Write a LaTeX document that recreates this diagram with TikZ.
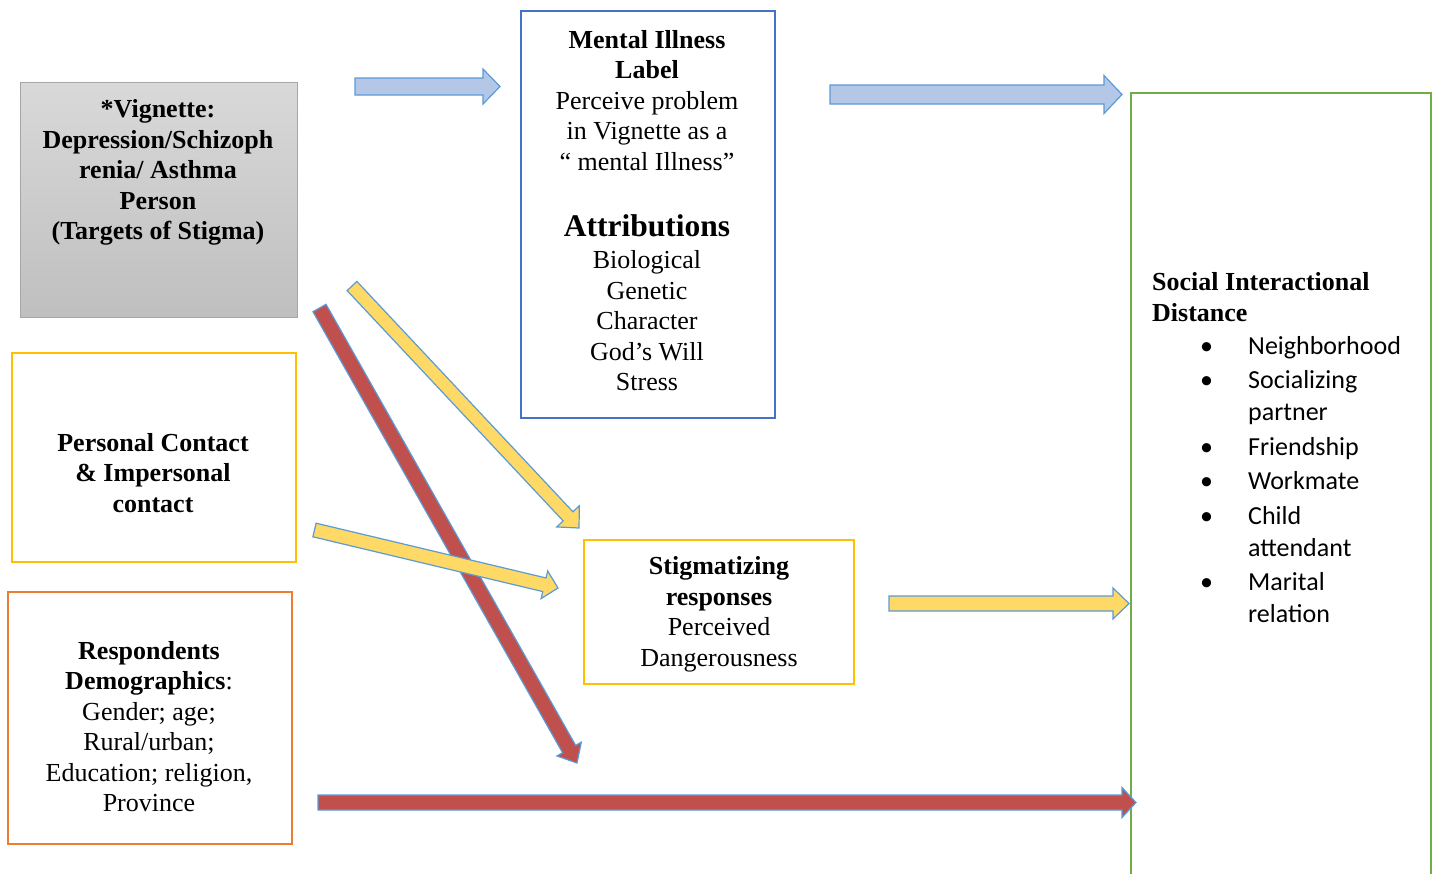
\documentclass[tikz,border=0pt]{standalone}
\usepackage{fontspec}
\setmainfont{Liberation Serif}
\newfontfamily\calibri{Carlito}
\usetikzlibrary{calc}

\definecolor{boxblue}{HTML}{4472C4}
\definecolor{boxgold}{HTML}{FFC000}
\definecolor{boxorange}{HTML}{ED7D31}
\definecolor{boxgreen}{HTML}{70AD47}
\definecolor{boxgray}{HTML}{A6A6A6}
\definecolor{arrowblue}{HTML}{B4C7E7}
\definecolor{arrowyellow}{HTML}{FFD966}
\definecolor{arrowred}{HTML}{C0504D}
\definecolor{rimblue}{HTML}{5B9BD5}

\tikzset{
  box/.style={draw, line width=2.8pt, inner sep=0pt},
  txt/.style={align=center, inner sep=0pt, font=\fontsize{26}{30.5}\selectfont},
  blockarrow/.style n args={3}{draw=rimblue, line width=1.2pt, line join=miter,
    to path={
      ($(\tikztostart)!#1pt!90:(\tikztotarget)$)
      -- ($($(\tikztotarget)!#2pt!(\tikztostart)$)!#1pt!90:(\tikztotarget)$)
      -- ($($(\tikztotarget)!#2pt!(\tikztostart)$)!#3pt!90:(\tikztotarget)$)
      -- (\tikztotarget)
      -- ($($(\tikztotarget)!#2pt!(\tikztostart)$)!#3pt!-90:(\tikztotarget)$)
      -- ($($(\tikztotarget)!#2pt!(\tikztostart)$)!#1pt!-90:(\tikztotarget)$)
      -- ($(\tikztostart)!#1pt!-90:(\tikztotarget)$)
      -- cycle}}
}

\begin{document}
\begin{tikzpicture}[x=1pt, y=-1pt]
  \useasboundingbox (0,0) rectangle (1437,873);

  % Boxes
  \node[draw=boxgray, line width=1pt, inner sep=0pt, top color=gray!30, bottom color=gray!50,
        minimum width=277pt, minimum height=235pt] (vignette) at (158.5,199.5) {};
  \node[box, draw=boxblue, minimum width=254pt, minimum height=407pt] (label) at (648,214.5) {};
  \node[box, draw=boxgold, minimum width=284pt, minimum height=209pt] (contact) at (154,457.5) {};
  \node[box, draw=boxorange, minimum width=284pt, minimum height=252pt] (demo) at (150,718) {};
  \node[box, draw=boxgold, minimum width=270pt, minimum height=144pt] (stigma) at (719,612) {};
  \node[box, draw=boxgreen, minimum width=300pt, minimum height=807pt] (distance) at (1281,496.5) {};

  % Texts
  \node[txt, font=\fontsize{26}{30.5}\selectfont\bfseries] (vigtext) at (158,172.5)
    {*Vignette:\\Depression/Schizoph\\renia/ Asthma\\Person\\(Targets of Stigma)};
  \node[txt] (labeltext) at (647,100.5)
    {\textbf{Mental Illness}\\\textbf{Label}\\Perceive problem\\in Vignette as a\\“ mental Illness”};
  \node[txt, font=\fontsize{31.5}{34}\selectfont\bfseries] (attrtitle) at (647,226) {Attributions};
  \node[txt] (attrtext) at (647,321)
    {Biological\\Genetic\\Character\\God’s Will\\Stress};
  \node[txt, font=\fontsize{26}{30.5}\selectfont\bfseries] (contacttext) at (153,473)
    {Personal Contact\\\& Impersonal\\contact};
  \node[txt] (demotext) at (149,726.5)
    {\textbf{Respondents}\\\textbf{Demographics}:\\Gender; age;\\Rural/urban;\\Education; religion,\\Province};
  \node[txt] (stigmatext) at (719,614.5)
    {\textbf{Stigmatizing}\\\textbf{responses}\\Perceived\\Dangerousness};
  \node[txt, align=left, anchor=west, font=\fontsize{26}{31}\selectfont\bfseries] (distancetitle) at (1152,297.5)
    {Social Interactional\\Distance};
  \node[txt, align=left, anchor=west, font=\fontsize{26}{32}\selectfont\calibri] (distancelist) at (1200,479.5)
    {\makebox[48pt][l]{•}Neighborhood\\[2.5pt]
     \makebox[48pt][l]{•}Socializing\\
     \hspace*{48pt}partner\\[2.5pt]
     \makebox[48pt][l]{•}Friendship\\[2.5pt]
     \makebox[48pt][l]{•}Workmate\\[2.5pt]
     \makebox[48pt][l]{•}Child\\
     \hspace*{48pt}attendant\\[2.5pt]
     \makebox[48pt][l]{•}Marital\\
     \hspace*{48pt}relation};

  % Arrow ends
  \coordinate (vig-label) at (355,86.5);
  \coordinate (label-in) at (500,86.5);
  \coordinate (label-out) at (830,94.5);
  \coordinate (distance-top) at (1122,94.5);
  \coordinate (vig-stigma) at (352,286);
  \coordinate (stigma-top) at (579,528);
  \coordinate (contact-out) at (314.5,530);
  \coordinate (stigma-left) at (558,588);
  \coordinate (vig-demo) at (319.5,308);
  \coordinate (demo-end) at (577,763);
  \coordinate (stigma-out) at (889,603.5);
  \coordinate (distance-mid) at (1129,603.5);
  \coordinate (demo-out) at (318,802.5);
  \coordinate (distance-low) at (1136,802.5);

  % Arrows
  \draw[blockarrow={8.5}{17}{17.5}, fill=arrowblue] (vig-label) to (label-in);
  \draw[blockarrow={9.5}{18}{19}, fill=arrowblue] (label-out) to (distance-top);
  \draw[blockarrow={7.5}{16}{14}, fill=arrowred] (vig-demo) to (demo-end);
  \draw[blockarrow={6.7}{16}{15.5}, fill=arrowyellow] (vig-stigma) to (stigma-top);
  \draw[blockarrow={7}{14}{14.2}, fill=arrowyellow] (contact-out) to (stigma-left);
  \draw[blockarrow={7.5}{16}{15.5}, fill=arrowyellow] (stigma-out) to (distance-mid);
  \draw[blockarrow={7.5}{14}{15}, fill=arrowred] (demo-out) to (distance-low);
\end{tikzpicture}
\end{document}
